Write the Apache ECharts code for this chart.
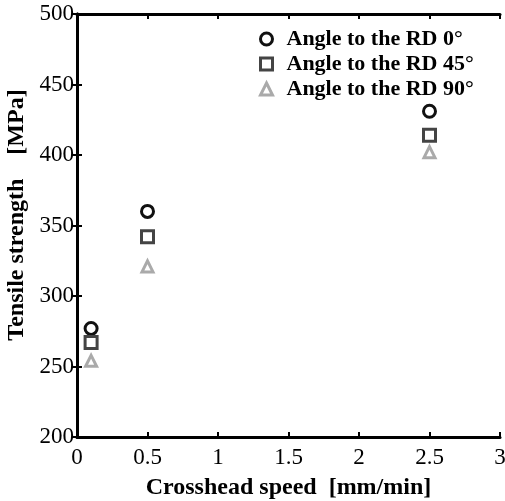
<!DOCTYPE html>
<html><head><meta charset="utf-8">
<script src="https://cdn.jsdelivr.net/npm/echarts@6/dist/echarts.min.js"></script>
<style>html,body{margin:0;padding:0;background:#fff}#c{width:505px;height:501px}</style>
</head><body><div id="c"></div>
<script>
const speeds = [0.1, 0.5, 2.5];
const rd0 = [277, 360, 431];
const rd45 = [267, 342, 414];
const rd90 = [254, 321, 402];
const seriesNames = ['Angle to the RD 0\u00B0', 'Angle to the RD 45\u00B0', 'Angle to the RD 90\u00B0'];
const xTicks = [0, 0.5, 1, 1.5, 2, 2.5, 3];
const yTicks = [200, 250, 300, 350, 400, 450, 500];

const chart = echarts.init(document.getElementById('c'));
const font = 'Liberation Serif';
const axisLine = {show: true, lineStyle: {color: '#000', width: 3}};
const tick = {show: true, inside: true, length: 5, lineStyle: {color: '#000', width: 2}};
function pts(v){ return speeds.map((s,i)=>[s, v[i]]); }
function mk(name, data, symbol, color, size){
  return {name, type: 'scatter', data: pts(data), symbol, symbolSize: size,
    itemStyle: {color: 'rgba(0,0,0,0)', borderColor: color, borderWidth: 3, opacity: 1}, xAxisIndex: 0, yAxisIndex: 0};
}
chart.setOption({
  animation: false,
  grid: {left: 77, top: 14, right: 5, bottom: 64, containLabel: false, outerBoundsMode: 'none'},
  legend: {
    data: seriesNames, orient: 'vertical', left: 254, top: 23, itemGap: 3,
    itemWidth: 12, itemHeight: 12,
    itemStyle: {borderWidth: 3, opacity: 1},
    textStyle: {fontFamily: font, fontWeight: 'bold', fontSize: 22, color: '#000', padding: [0,0,0,9]}
  },
  xAxis: [
    {type: 'value', min: 0, max: 3, interval: 0.5, position: 'bottom',
     axisLine, axisTick: tick, splitLine: {show: false},
     axisLabel: {fontFamily: font, fontSize: 23, color: '#000', margin: 9,
       formatter: v => String(v)},
     name: 'Crosshead speed  [mm/min]', nameLocation: 'middle', nameGap: 39,
     nameTextStyle: {fontFamily: font, fontWeight: 'bold', fontSize: 24, color: '#000'}},
    {type: 'value', min: 0, max: 3, interval: 0.5, position: 'top',
     axisLine, axisTick: tick, axisLabel: {show: false}, splitLine: {show: false}}
  ],
  yAxis: [
    {type: 'value', min: 200, max: 500, interval: 50, position: 'left',
     axisLine, axisTick: tick, splitLine: {show: false},
     axisLabel: {fontFamily: font, fontSize: 23, color: '#000', margin: 3},
     name: 'Tensile strength    [MPa]', nameLocation: 'middle', nameGap: 43,
     nameTextStyle: {fontFamily: font, fontWeight: 'bold', fontSize: 24, color: '#000', padding: [0,0,0,21]}},
    {type: 'value', min: 200, max: 500, interval: 50, position: 'right',
     axisLine, axisTick: tick, axisLabel: {show: false}, splitLine: {show: false}}
  ],
  series: [
    mk(seriesNames[0], rd0, 'circle', '#111', 12),
    mk(seriesNames[1], rd45, 'rect', '#444', 12),
    mk(seriesNames[2], rd90, 'triangle', '#aaa', 11)
  ]
});
</script></body></html>
